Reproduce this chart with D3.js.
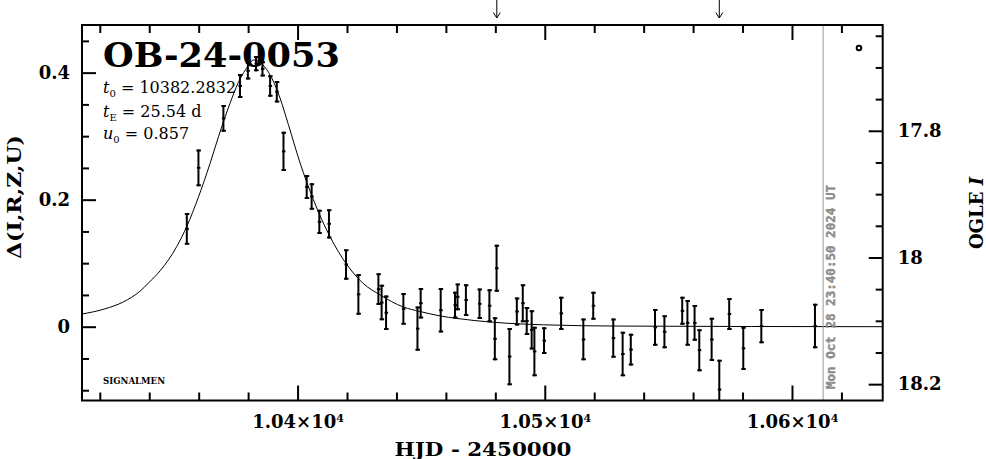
<!DOCTYPE html>
<html><head><meta charset="utf-8">
<script src="https://cdn.jsdelivr.net/npm/d3@7"></script>
<style>body{margin:0;background:#fff}svg{display:block}</style>
</head><body>
<svg id="c" width="986" height="459"></svg>
<script>
// ---- data ----
const hjd   = [10355.2,10359.9,10370.0,10376.7,10379.9,10383.2,10385.8,10388.9,10391.6,10394.3,
               10403.7,10405.7,10408.8,10412.7,10419.6,10424.6,10432.7,10434.0,10435.8,10442.8,
               10448.5,10449.8,10457.9,10463.7,10464.7,10468.1,10473.6,10477.6,10479.8,10480.5,
               10485.7,10488.7,10491.1,10492.7,10494.7,10495.8,10499.7,10506.6,10515.6,10519.6,
               10527.7,10531.5,10534.8,10544.6,10548.4,10555.6,10557.7,10560.6,10562.5,10567.5,
               10570.6,10574.6,10580.3,10587.6,10609.3];
const delta = [0.154,0.250,0.328,0.379,0.403,0.414,0.406,0.379,0.370,0.276,
               0.220,0.205,0.165,0.162,0.098,0.051,0.059,0.038,0.022,0.028,
               -0.003,0.037,0.026,0.034,0.047,0.042,0.036,0.033,-0.019,0.092,
               -0.047,0.024,0.037,0.009,-0.005,-0.039,-0.022,0.021,-0.020,0.033,
               -0.018,-0.043,-0.036,-0.001,-0.008,0.025,0.006,0.006,-0.037,-0.020,
               -0.099,0.020,-0.034,0.001,0.001];
const err   = [0.025,0.029,0.021,0.019,0.014,0.012,0.012,0.017,0.017,0.031,
               0.019,0.021,0.019,0.023,0.024,0.032,0.025,0.028,0.027,0.025,
               0.035,0.024,0.035,0.021,0.021,0.025,0.024,0.026,0.034,0.037,
               0.045,0.022,0.030,0.022,0.031,0.039,0.021,0.026,0.033,0.022,
               0.031,0.035,0.025,0.029,0.026,0.022,0.036,0.028,0.033,0.034,
               0.047,0.025,0.034,0.027,0.035];
// model curve
const modelT = [10312.8,10322,10329.5,10336.3,10340.0,10344.4,10351.1,10355.2,10359.9,10364.6,10368.0,
                10372.7,10376.0,10379.0,10382.3,10385.5,10389.5,10392.9,10396.3,10401.0,10406.4,
                10413.1,10419.9,10426.6,10433.4,10442.8,10449.5,10457.6,10464.4,10479.2,10499.4,
                10530.4,10636.7];
const modelD = [0.020,0.028,0.039,0.056,0.070,0.088,0.126,0.158,0.204,0.257,0.299,
                0.352,0.384,0.405,0.420,0.414,0.392,0.360,0.318,0.258,0.200,
                0.142,0.098,0.068,0.050,0.031,0.024,0.017,0.013,0.007,0.003,
                0.001,0.000];
const xMajor = [10400,10500,10600];
const xMinor = [10320,10340,10360,10380,10420,10440,10460,10480,10520,10540,10560,10580,10620];
const yMajor = [0,0.2,0.4];
const yMinor = [-0.1,-0.05,0.05,0.1,0.15,0.25,0.3,0.35,0.45];
const magMajor = [17.8,18,18.2];
const magMinor = [17.65,17.7,17.75,17.85,17.9,17.95,18.05,18.1,18.15];
const arrowT = [10480.6,10570.6];
const dateLineT = 10612.6;
const title = "OB-24-0053";
const dateText = "Mon Oct 28 23:40:50 2024 UT";

// ---- layout ----
const L = 82, R = 882.7, T = 25, B = 400.5;
const x = d3.scaleLinear().domain([10312.8,10636.7]).range([L,R]);
const y = d3.scaleLinear().domain([-0.1154,0.475]).range([400,25]);
const ym = d3.scaleLinear().domain([17.633,18.225]).range([25,400]);

const svg = d3.select("#c");
const serif = "'DejaVu Serif', serif";

svg.append("defs").append("clipPath").attr("id","clip")
  .append("rect").attr("x",L).attr("y",T).attr("width",R-L).attr("height",B-T);

const plot = svg.append("g").attr("clip-path","url(#clip)");

// model curve
plot.append("path")
  .datum(modelT.map((t,i)=>[t,modelD[i]]))
  .attr("fill","none").attr("stroke","#000").attr("stroke-width",1)
  .attr("d", d3.line().x(d=>x(d[0])).y(d=>y(d[1])).curve(d3.curveMonotoneX));

// data points with error bars
const pts = hjd.map((t,i)=>({t, d:delta[i], e:err[i]}));
const eb = plot.selectAll("g.pt").data(pts).join("g").attr("class","pt");
eb.append("line").attr("x1",d=>x(d.t)).attr("x2",d=>x(d.t))
  .attr("y1",d=>y(d.d+d.e)).attr("y2",d=>y(d.d-d.e))
  .attr("stroke","#000").attr("stroke-width",2);
eb.append("line").attr("x1",d=>x(d.t)-2).attr("x2",d=>x(d.t)+2.5)
  .attr("y1",d=>y(d.d+d.e)+1).attr("y2",d=>y(d.d+d.e)+1)
  .attr("stroke","#000").attr("stroke-width",2);
eb.append("line").attr("x1",d=>x(d.t)-2).attr("x2",d=>x(d.t)+2.5)
  .attr("y1",d=>y(d.d-d.e)-1).attr("y2",d=>y(d.d-d.e)-1)
  .attr("stroke","#000").attr("stroke-width",2);
eb.append("rect").attr("x",d=>x(d.t)-1.5).attr("y",d=>y(d.d)-1).attr("width",3.5).attr("height",2).attr("fill","#000");

// date line
svg.append("line").attr("x1",x(dateLineT)).attr("x2",x(dateLineT)).attr("y1",T).attr("y2",B)
  .attr("stroke","#999").attr("stroke-width",1);
svg.append("text").attr("transform",`translate(${x(dateLineT)+12},389) rotate(-90)`)
  .attr("font-family","'DejaVu Sans Mono', monospace").attr("font-weight","bold")
  .attr("font-size",12).attr("fill","#8c8c8c").attr("stroke","#8c8c8c").attr("stroke-width",0.4)
  .attr("textLength",204).attr("lengthAdjust","spacingAndGlyphs").text(dateText);

// axes
function styleAxis(g){
  g.select(".domain").remove();
  g.selectAll(".tick line").attr("stroke","#000").attr("stroke-width",2);
  g.selectAll("text").attr("font-family",serif).attr("font-weight","bold").attr("font-size",18).attr("fill","#000");
}
svg.append("g").attr("transform",`translate(0,${B})`)
  .call(d3.axisBottom(x).tickValues(xMajor).tickSize(-15).tickPadding(15))
  .call(styleAxis)
  .selectAll(".tick text").each(function(d){
    const t = d3.select(this); t.text(null);
    t.append("tspan").text((d/1e4).toFixed(2)+"×10");
    t.append("tspan").attr("font-size",11).attr("dy","-0.55em").text("4");
  });
svg.append("g").attr("transform",`translate(0,${B})`)
  .call(d3.axisBottom(x).tickValues(xMinor).tickSize(-8).tickFormat(""))
  .call(styleAxis);
svg.append("g").attr("transform",`translate(0,${T})`)
  .call(d3.axisTop(x).tickValues(xMajor).tickSize(-15).tickFormat(""))
  .call(styleAxis);
svg.append("g").attr("transform",`translate(0,${T})`)
  .call(d3.axisTop(x).tickValues(xMinor).tickSize(-8).tickFormat(""))
  .call(styleAxis);
svg.append("g").attr("transform",`translate(${L},0)`)
  .call(d3.axisLeft(y).tickValues(yMajor).tickSize(-14).tickPadding(12).tickFormat(d=>d===0?"0":d.toFixed(1)))
  .call(styleAxis);
svg.append("g").attr("transform",`translate(${L},0)`)
  .call(d3.axisLeft(y).tickValues(yMinor).tickSize(-7).tickFormat(""))
  .call(styleAxis);
svg.append("g").attr("transform",`translate(${R},0)`)
  .call(d3.axisRight(ym).tickValues(magMajor).tickSize(-14).tickPadding(15).tickFormat(d=>String(d)))
  .call(styleAxis);
svg.append("g").attr("transform",`translate(${R},0)`)
  .call(d3.axisRight(ym).tickValues(magMinor).tickSize(-7).tickFormat(""))
  .call(styleAxis);

// frame
svg.append("rect").attr("x",L).attr("y",T).attr("width",R-L).attr("height",B-T)
  .attr("fill","none").attr("stroke","#000").attr("stroke-width",2);

// arrows at top
arrowT.forEach(t=>{
  const ax = x(t);
  svg.append("path").attr("d",`M${ax},0V18M${ax-3.5},12.5L${ax},18L${ax+3.5},12.5`)
    .attr("fill","none").attr("stroke","#000").attr("stroke-width",1);
});

// small circle marker
svg.append("circle").attr("cx",859).attr("cy",48).attr("r",2.3)
  .attr("fill","none").attr("stroke","#000").attr("stroke-width",2);

// title & parameters
svg.append("text").attr("x",103).attr("y",67).attr("font-family",serif).attr("font-weight","bold")
  .attr("font-size",33).attr("textLength",237).attr("lengthAdjust","spacingAndGlyphs").text(title);

const params = [["t","0"," = 10382.2832",93],["t","E"," = 25.54 d",117],["u","0"," = 0.857",139]];
params.forEach(p=>{
  const t = svg.append("text").attr("x",103).attr("y",p[3]).attr("font-family",serif).attr("font-size",16);
  t.append("tspan").attr("font-style","italic").text(p[0]);
  t.append("tspan").attr("font-size",10).attr("dy",4).text(p[1]);
  t.append("tspan").attr("dy",-4).text(p[2]);
});

svg.append("text").attr("x",103).attr("y",384).attr("font-family",serif).attr("font-weight","bold")
  .attr("font-size",9).attr("textLength",62).attr("lengthAdjust","spacingAndGlyphs").text("SIGNALMEN");

// axis titles
svg.append("text").attr("x",483).attr("y",456).attr("text-anchor","middle").attr("font-family",serif)
  .attr("font-weight","bold").attr("font-size",18).attr("textLength",177).attr("lengthAdjust","spacingAndGlyphs")
  .text("HJD - 2450000");
svg.append("text").attr("transform","translate(21,197) rotate(-90)").attr("text-anchor","middle")
  .attr("font-family",serif).attr("font-weight","bold").attr("font-size",18)
  .attr("textLength",124).attr("lengthAdjust","spacingAndGlyphs").text("Δ(I,R,Z,U)");
const ot = svg.append("text").attr("transform","translate(983,213) rotate(-90)").attr("text-anchor","middle")
  .attr("font-family",serif).attr("font-weight","bold").attr("font-size",18);
ot.append("tspan").text("OGLE ");
ot.append("tspan").attr("font-style","italic").text("I");
</script>
</body></html>
